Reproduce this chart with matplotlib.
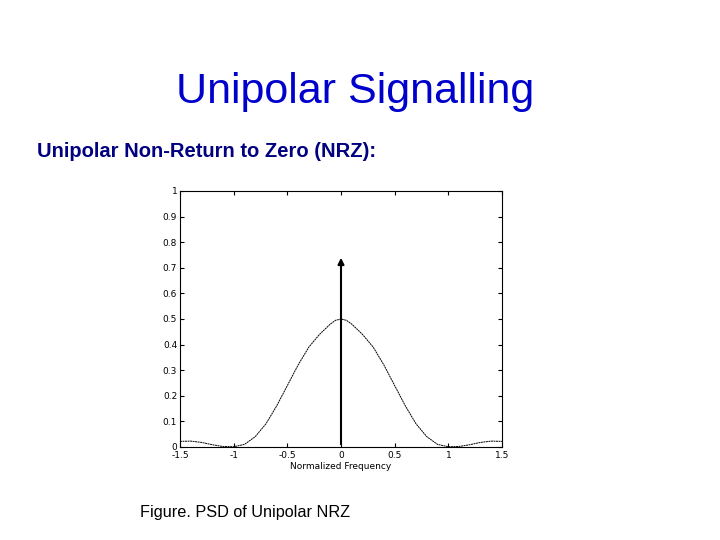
import matplotlib
matplotlib.use("Agg")
import matplotlib.pyplot as plt

freq = [-1.5, -1.4, -1.3, -1.2, -1.1, -1.0, -0.9, -0.8, -0.7, -0.6, -0.5, -0.4, -0.3, -0.2, -0.1, -0.05, 0.0,
        0.05, 0.1, 0.2, 0.3, 0.4, 0.5, 0.6, 0.7, 0.8, 0.9, 1.0, 1.1, 1.2, 1.3, 1.4, 1.5]
psd = [0.022, 0.023, 0.018, 0.009, 0.002, 0.001, 0.01, 0.04, 0.09, 0.16, 0.24, 0.32, 0.39, 0.44, 0.48, 0.495, 0.5,
       0.495, 0.48, 0.44, 0.39, 0.32, 0.24, 0.16, 0.09, 0.04, 0.01, 0.001, 0.002, 0.009, 0.018, 0.023, 0.022]
impulse_x = 0.0
impulse_h = 0.75
xticks = [-1.5, -1, -0.5, 0, 0.5, 1, 1.5]
xticklabels = ["-1.5", "-1", "-0.5", "0", "0.5", "1", "1.5"]
yticks = [0, 0.1, 0.2, 0.3, 0.4, 0.5, 0.6, 0.7, 0.8, 0.9, 1]
yticklabels = ["0", "0.1", "0.2", "0.3", "0.4", "0.5", "0.6", "0.7", "0.8", "0.9", "1"]

fig = plt.figure(figsize=(7.2, 5.4), dpi=100)
fig.text(0.493, 0.81, "Unipolar Signalling", ha="center", fontsize=31, color="#0000cc", family="Liberation Sans")
fig.text(0.052, 0.71, "Unipolar Non-Return to Zero (NRZ):", ha="left", fontsize=14.5, color="#000080",
         weight="bold", family="Liberation Sans")
fig.text(0.195, 0.043, "Figure. PSD of Unipolar NRZ", ha="left", fontsize=11.7, color="#000000", family="Liberation Sans")

ax = fig.add_axes([180/720, 1-447/540, 322/720, 256/540])
ax.plot(freq, psd, color="black", lw=0.7, ls=(0, (2, 0.6)))
ax.annotate("", xy=(impulse_x, impulse_h), xytext=(impulse_x, 0),
            arrowprops=dict(arrowstyle="-|>", color="black", lw=1.5, mutation_scale=9))
ax.set_xlim(-1.5, 1.5)
ax.set_ylim(0, 1)
ax.set_xticks(xticks)
ax.set_xticklabels(xticklabels)
ax.set_yticks(yticks)
ax.set_yticklabels(yticklabels)
ax.tick_params(direction="in", top=True, right=True, labelsize=6.5, length=3, pad=2)
ax.tick_params(axis="x", pad=3)
for s in ax.spines.values():
    s.set_linewidth(0.8)
ax.set_xlabel("Normalized Frequency", fontsize=6.5, labelpad=1)
fig.savefig("out.png", dpi=100)
